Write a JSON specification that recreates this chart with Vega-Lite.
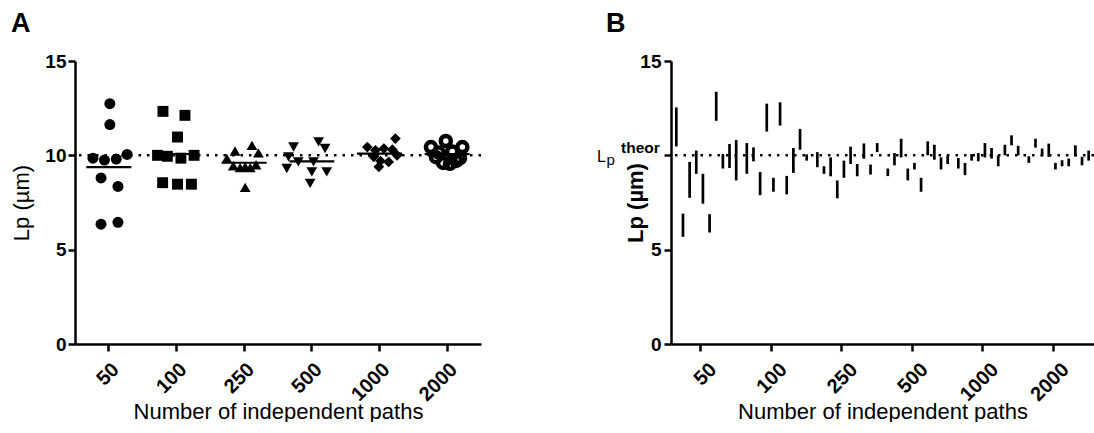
{
  "$schema": "https://vega.github.io/schema/vega-lite/v6.json",
  "background": "white",
  "padding": {"left": 10, "top": 10, "right": 0, "bottom": 0},
  "spacing": 190,
  "bounds": "flush",
  "config": {
    "view": {"stroke": null},
    "font": "Liberation Sans",
    "axis": {
      "domainColor": "black", "domainWidth": 2.5, "tickColor": "black", "tickWidth": 2.5, "tickSize": 7,
      "labelFont": "Liberation Sans", "labelFontWeight": "bold", "labelFontSize": 19, "labelColor": "black", "labelPadding": 3,
      "titleFont": "Liberation Sans", "titleFontWeight": "normal", "titleFontSize": 22, "titleColor": "black", "grid": false
    },
    "axisX": {"labelAngle": -45, "labelFontSize": 20, "labelPadding": 8, "titleY": 74, "titleBaseline": "alphabetic"},
    "title": {"font": "Liberation Sans", "fontSize": 27, "fontWeight": "bold", "color": "black", "anchor": "start", "frame": "group", "baseline": "bottom", "offset": 14}
  },
  "datasets": {
    "ref": [{"lp": 10}],
    "scatter": [
      {"n": "50", "lp": 12.74, "spread": 0.03},
      {"n": "50", "lp": 11.63, "spread": 0.03},
      {"n": "50", "lp": 9.85, "spread": -0.47},
      {"n": "50", "lp": 9.75, "spread": -0.13},
      {"n": "50", "lp": 9.8, "spread": 0.22},
      {"n": "50", "lp": 10.05, "spread": 0.54},
      {"n": "50", "lp": 8.8, "spread": -0.23},
      {"n": "50", "lp": 8.35, "spread": 0.27},
      {"n": "50", "lp": 6.35, "spread": -0.23},
      {"n": "50", "lp": 6.45, "spread": 0.27},
      {"n": "100", "lp": 12.33, "spread": -0.4},
      {"n": "100", "lp": 12.12, "spread": 0.25},
      {"n": "100", "lp": 10.97, "spread": 0.03},
      {"n": "100", "lp": 10.0, "spread": -0.56},
      {"n": "100", "lp": 9.95, "spread": -0.27},
      {"n": "100", "lp": 9.85, "spread": 0.13},
      {"n": "100", "lp": 10.0, "spread": 0.52},
      {"n": "100", "lp": 8.55, "spread": -0.41},
      {"n": "100", "lp": 8.47, "spread": 0.03},
      {"n": "100", "lp": 8.47, "spread": 0.44},
      {"n": "250", "lp": 10.23, "spread": -0.27},
      {"n": "250", "lp": 10.53, "spread": 0.23},
      {"n": "250", "lp": 10.13, "spread": 0.42},
      {"n": "250", "lp": 9.83, "spread": -0.51},
      {"n": "250", "lp": 9.45, "spread": -0.32},
      {"n": "250", "lp": 9.35, "spread": -0.12},
      {"n": "250", "lp": 9.4, "spread": 0.03},
      {"n": "250", "lp": 9.35, "spread": 0.18},
      {"n": "250", "lp": 9.5, "spread": 0.35},
      {"n": "250", "lp": 8.3, "spread": 0.03},
      {"n": "500", "lp": 10.44, "spread": -0.54},
      {"n": "500", "lp": 10.71, "spread": 0.2},
      {"n": "500", "lp": 10.36, "spread": 0.39},
      {"n": "500", "lp": 9.92, "spread": -0.69},
      {"n": "500", "lp": 9.65, "spread": -0.4},
      {"n": "500", "lp": 9.65, "spread": 0.05},
      {"n": "500", "lp": 9.3, "spread": -0.74},
      {"n": "500", "lp": 9.12, "spread": 0.0},
      {"n": "500", "lp": 9.12, "spread": 0.44},
      {"n": "500", "lp": 8.51, "spread": -0.05},
      {"n": "1000", "lp": 10.44, "spread": -0.36},
      {"n": "1000", "lp": 10.27, "spread": -0.12},
      {"n": "1000", "lp": 10.36, "spread": 0.13},
      {"n": "1000", "lp": 10.3, "spread": 0.38},
      {"n": "1000", "lp": 10.89, "spread": 0.47},
      {"n": "1000", "lp": 9.92, "spread": -0.17},
      {"n": "1000", "lp": 9.7, "spread": 0.03},
      {"n": "1000", "lp": 9.39, "spread": -0.02},
      {"n": "1000", "lp": 9.65, "spread": 0.27},
      {"n": "1000", "lp": 10.0, "spread": 0.52},
      {"n": "2000", "lp": 10.44, "spread": -0.48},
      {"n": "2000", "lp": 10.76, "spread": -0.04},
      {"n": "2000", "lp": 10.44, "spread": 0.45},
      {"n": "2000", "lp": 10.15, "spread": -0.25},
      {"n": "2000", "lp": 10.2, "spread": 0.15},
      {"n": "2000", "lp": 9.9, "spread": -0.33},
      {"n": "2000", "lp": 9.6, "spread": -0.12},
      {"n": "2000", "lp": 9.55, "spread": 0.08},
      {"n": "2000", "lp": 9.7, "spread": 0.27},
      {"n": "2000", "lp": 9.85, "spread": 0.38}
    ],
    "ci": [
      {"n": "50", "rep": 1, "lo": 10.47, "hi": 12.54},
      {"n": "50", "rep": 2, "lo": 5.68, "hi": 6.91},
      {"n": "50", "rep": 3, "lo": 7.75, "hi": 9.65},
      {"n": "50", "rep": 4, "lo": 9.02, "hi": 10.25},
      {"n": "50", "rep": 5, "lo": 7.44, "hi": 9.02},
      {"n": "50", "rep": 6, "lo": 5.91, "hi": 6.88},
      {"n": "50", "rep": 7, "lo": 11.83, "hi": 13.37},
      {"n": "50", "rep": 8, "lo": 9.3, "hi": 10.07},
      {"n": "50", "rep": 9, "lo": 9.33, "hi": 10.6},
      {"n": "50", "rep": 10, "lo": 8.67, "hi": 10.81},
      {"n": "100", "rep": 1, "lo": 9.02, "hi": 10.65},
      {"n": "100", "rep": 2, "lo": 9.68, "hi": 10.42},
      {"n": "100", "rep": 3, "lo": 7.89, "hi": 9.12},
      {"n": "100", "rep": 4, "lo": 11.26, "hi": 12.74},
      {"n": "100", "rep": 5, "lo": 8.07, "hi": 8.81},
      {"n": "100", "rep": 6, "lo": 11.58, "hi": 12.81},
      {"n": "100", "rep": 7, "lo": 7.93, "hi": 8.91},
      {"n": "100", "rep": 8, "lo": 9.07, "hi": 10.39},
      {"n": "100", "rep": 9, "lo": 10.3, "hi": 11.4},
      {"n": "100", "rep": 10, "lo": 9.72, "hi": 10.05},
      {"n": "250", "rep": 1, "lo": 9.37, "hi": 10.17},
      {"n": "250", "rep": 2, "lo": 9.02, "hi": 9.42},
      {"n": "250", "rep": 3, "lo": 8.89, "hi": 9.89},
      {"n": "250", "rep": 4, "lo": 7.72, "hi": 8.67},
      {"n": "250", "rep": 5, "lo": 8.81, "hi": 9.72},
      {"n": "250", "rep": 6, "lo": 9.54, "hi": 10.46},
      {"n": "250", "rep": 7, "lo": 8.89, "hi": 9.54},
      {"n": "250", "rep": 8, "lo": 9.82, "hi": 10.63},
      {"n": "250", "rep": 9, "lo": 8.98, "hi": 9.51},
      {"n": "250", "rep": 10, "lo": 10.17, "hi": 10.65},
      {"n": "500", "rep": 1, "lo": 8.9, "hi": 9.3},
      {"n": "500", "rep": 2, "lo": 9.47, "hi": 10.12},
      {"n": "500", "rep": 3, "lo": 9.89, "hi": 10.88},
      {"n": "500", "rep": 4, "lo": 8.67, "hi": 9.3},
      {"n": "500", "rep": 5, "lo": 9.25, "hi": 9.6},
      {"n": "500", "rep": 6, "lo": 8.07, "hi": 8.81},
      {"n": "500", "rep": 7, "lo": 10.0, "hi": 10.74},
      {"n": "500", "rep": 8, "lo": 9.77, "hi": 10.56},
      {"n": "500", "rep": 9, "lo": 9.25, "hi": 9.89},
      {"n": "500", "rep": 10, "lo": 9.54, "hi": 10.0},
      {"n": "1000", "rep": 1, "lo": 9.3, "hi": 9.86},
      {"n": "1000", "rep": 2, "lo": 8.95, "hi": 9.6},
      {"n": "1000", "rep": 3, "lo": 9.72, "hi": 10.07},
      {"n": "1000", "rep": 4, "lo": 9.68, "hi": 10.12},
      {"n": "1000", "rep": 5, "lo": 9.89, "hi": 10.65},
      {"n": "1000", "rep": 6, "lo": 9.83, "hi": 10.39},
      {"n": "1000", "rep": 7, "lo": 9.42, "hi": 10.0},
      {"n": "1000", "rep": 8, "lo": 10.0, "hi": 10.56},
      {"n": "1000", "rep": 9, "lo": 10.53, "hi": 11.06},
      {"n": "1000", "rep": 10, "lo": 10.0, "hi": 10.5},
      {"n": "2000", "rep": 1, "lo": 9.6, "hi": 9.95},
      {"n": "2000", "rep": 2, "lo": 10.41, "hi": 10.88},
      {"n": "2000", "rep": 3, "lo": 9.95, "hi": 10.36},
      {"n": "2000", "rep": 4, "lo": 9.92, "hi": 10.62},
      {"n": "2000", "rep": 5, "lo": 9.25, "hi": 9.6},
      {"n": "2000", "rep": 6, "lo": 9.42, "hi": 9.74},
      {"n": "2000", "rep": 7, "lo": 9.42, "hi": 9.83},
      {"n": "2000", "rep": 8, "lo": 9.95, "hi": 10.53},
      {"n": "2000", "rep": 9, "lo": 9.47, "hi": 9.92},
      {"n": "2000", "rep": 10, "lo": 9.72, "hi": 10.25}
    ]
  },
  "hconcat": [
    {
      "title": {"text": "A", "dx": -64},
      "width": 406,
      "height": 283,
      "layer": [
        {
          "data": {"name": "ref"},
          "mark": {"type": "rule", "strokeDash": [2.5, 6], "strokeWidth": 2.5, "color": "black"},
          "encoding": {
            "y": {"field": "lp", "type": "quantitative", "scale": {"domain": [0, 15], "nice": false}, "axis": {"values": [0, 5, 10, 15], "labelPadding": 2, "title": "Lp (µm)", "titleX": -54, "titleY": 141.5, "titleBaseline": "middle"}}
          }
        },
        {
          "data": {"name": "scatter"},
          "mark": {"type": "tick", "color": "black", "size": 45, "thickness": 2.2},
          "encoding": {
            "x": {"field": "n", "type": "nominal", "scale": {"type": "band", "domain": ["50", "100", "250", "500", "1000", "2000"], "paddingInner": 0, "paddingOuter": 0}, "axis": {"title": "Number of independent paths"}},
            "y": {"aggregate": "mean", "field": "lp", "type": "quantitative", "scale": {"domain": [0, 15], "nice": false}}
          }
        },
        {
          "data": {"name": "scatter"},
          "transform": [{"filter": "datum.n != '2000'"}],
          "mark": {"type": "point", "filled": true, "color": "black", "opacity": 1, "strokeWidth": 0},
          "encoding": {
            "x": {"field": "n", "type": "nominal", "scale": {"type": "band", "domain": ["50", "100", "250", "500", "1000", "2000"], "paddingInner": 0, "paddingOuter": 0}},
            "xOffset": {"field": "spread", "type": "quantitative", "scale": {"domain": [-1, 1]}},
            "y": {"field": "lp", "type": "quantitative", "scale": {"domain": [0, 15], "nice": false}},
            "shape": {"field": "n", "type": "nominal", "scale": {"domain": ["50", "100", "250", "500", "1000"], "range": ["circle", "square", "triangle-up", "triangle-down", "diamond"]}, "legend": null},
            "size": {"field": "n", "type": "nominal", "scale": {"domain": ["50", "100", "250", "500", "1000"], "range": [121, 115, 150, 150, 150]}, "legend": null}
          }
        },
        {
          "data": {"name": "scatter"},
          "transform": [{"filter": "datum.n == '2000'"}],
          "mark": {"type": "point", "shape": "circle", "filled": false, "stroke": "black", "strokeWidth": 4.5, "size": 100, "opacity": 1},
          "encoding": {
            "x": {"field": "n", "type": "nominal", "scale": {"type": "band", "domain": ["50", "100", "250", "500", "1000", "2000"], "paddingInner": 0, "paddingOuter": 0}},
            "xOffset": {"field": "spread", "type": "quantitative", "scale": {"domain": [-1, 1]}},
            "y": {"field": "lp", "type": "quantitative", "scale": {"domain": [0, 15], "nice": false}}
          }
        }
      ]
    },
    {
      "title": {"text": "B", "dx": -65},
      "width": 423,
      "height": 283,
      "layer": [
        {
          "data": {"name": "ref"},
          "mark": {"type": "rule", "strokeDash": [2.5, 6], "strokeWidth": 2.5, "color": "black"},
          "encoding": {
            "y": {"field": "lp", "type": "quantitative", "scale": {"domain": [0, 15], "nice": false}, "axis": {"values": [0, 5, 10, 15], "labelExpr": "datum.value == 10 ? '' : datum.label", "title": "Lp (µm)", "titleFontWeight": "bold", "titleX": -36, "titleY": 141.5, "titleBaseline": "middle"}}
          }
        },
        {
          "data": {"name": "ci"},
          "mark": {"type": "rule", "color": "black", "strokeWidth": 2.7},
          "encoding": {
            "x": {"field": "n", "type": "nominal", "scale": {"type": "band", "domain": ["50", "100", "250", "500", "1000", "2000"], "paddingInner": 0, "paddingOuter": 0}, "axis": {"title": "Number of independent paths", "bandPosition": 0.42}},
            "xOffset": {"field": "rep", "type": "nominal", "scale": {"paddingInner": 0, "paddingOuter": 0.3}},
            "y": {"field": "lo", "type": "quantitative", "scale": {"domain": [0, 15], "nice": false}},
            "y2": {"field": "hi"}
          }
        },
        {
          "data": {"name": "ref"},
          "mark": {"type": "text", "text": "L", "align": "left", "baseline": "alphabetic", "dx": -74, "dy": 7, "fontSize": 16, "font": "Liberation Sans", "fill": "black", "color": "black"},
          "encoding": {"x": {"value": 0}, "y": {"field": "lp", "type": "quantitative", "scale": {"domain": [0, 15], "nice": false}}}
        },
        {
          "data": {"name": "ref"},
          "mark": {"type": "text", "text": "p", "align": "left", "baseline": "alphabetic", "dx": -64.5, "dy": 9.5, "fontSize": 15, "font": "Liberation Sans", "fill": "black", "color": "black"},
          "encoding": {"x": {"value": 0}, "y": {"field": "lp", "type": "quantitative", "scale": {"domain": [0, 15], "nice": false}}}
        },
        {
          "data": {"name": "ref"},
          "mark": {"type": "text", "text": "theor", "align": "left", "baseline": "alphabetic", "dx": -50, "dy": -2.5, "fontSize": 15.5, "fontWeight": "bold", "font": "Liberation Sans", "fill": "black", "color": "black"},
          "encoding": {"x": {"value": 0}, "y": {"field": "lp", "type": "quantitative", "scale": {"domain": [0, 15], "nice": false}}}
        }
      ]
    }
  ]
}
